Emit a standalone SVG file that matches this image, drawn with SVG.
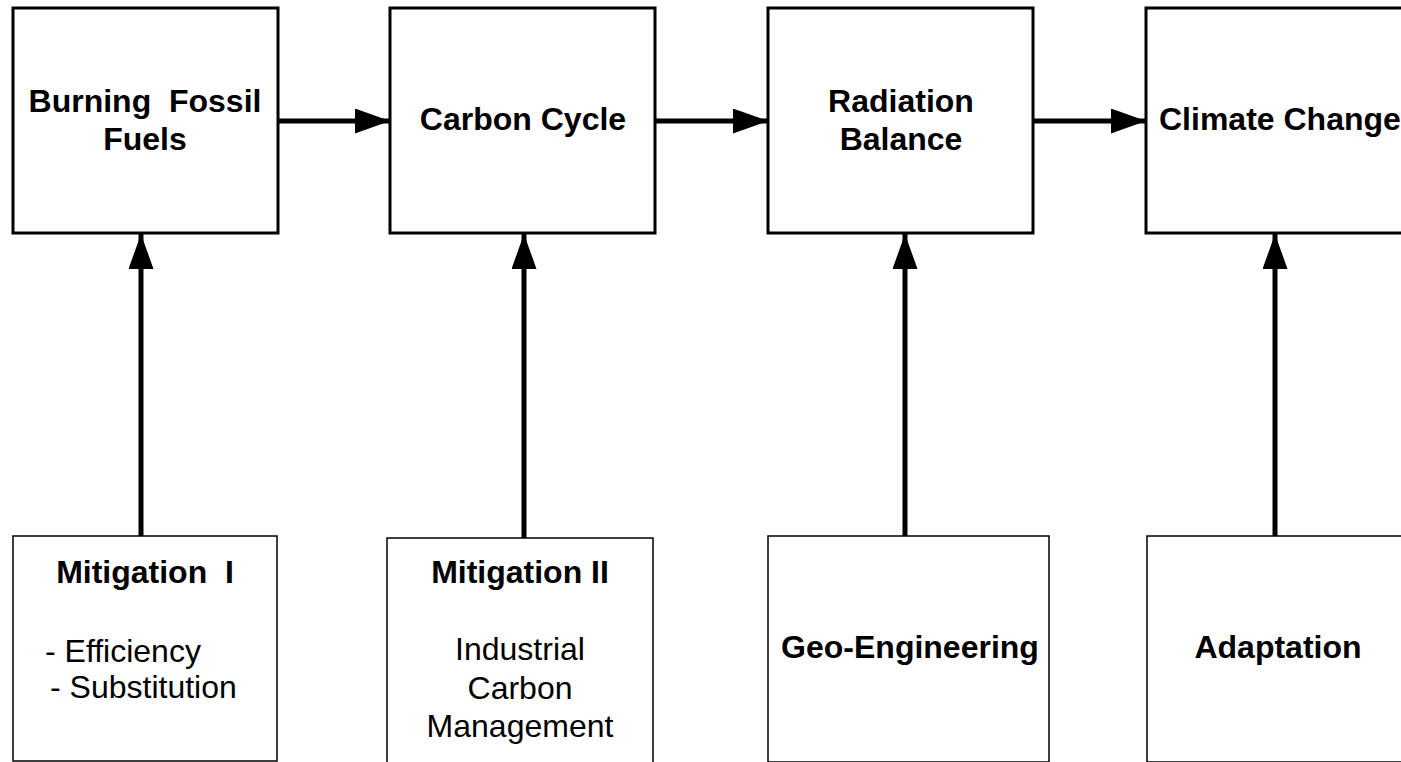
<svg xmlns="http://www.w3.org/2000/svg" width="1401" height="762" viewBox="0 0 1401 762">
<style>
.top{fill:#fff;stroke:#000;stroke-width:3}
.bot{fill:#fff;stroke:#000;stroke-width:1.5}
.b{font-family:"Liberation Sans",Arial,sans-serif;font-weight:bold;font-size:32px;fill:#000;text-anchor:middle;white-space:pre}
.r{font-family:"Liberation Sans",Arial,sans-serif;font-size:32px;fill:#000;text-anchor:middle;white-space:pre}
.c{stroke:#000;stroke-width:5;fill:none}
</style>
<defs>
<marker id="ah" markerUnits="userSpaceOnUse" markerWidth="36" markerHeight="26" refX="35" refY="12.5" orient="auto">
<path d="M0,0 L35,12.5 L0,25 Z" fill="#000"/>
</marker>
</defs>
<rect width="1401" height="762" fill="#fff"/>
<g id="n1"><rect class="top" x="13" y="8" width="265" height="225"/><text class="b" x="145" y="112" xml:space="preserve">Burning  Fossil</text><text class="b" x="145" y="150">Fuels</text></g>
<g id="n2"><rect class="top" x="390" y="8" width="265" height="225"/><text class="b" x="523" y="130">Carbon Cycle</text></g>
<g id="n3"><rect class="top" x="768" y="8" width="265" height="225"/><text class="b" x="901" y="112">Radiation</text><text class="b" x="901" y="150">Balance</text></g>
<g id="n4"><rect class="top" x="1146" y="8" width="265" height="225"/><text class="b" x="1159" y="130" style="text-anchor:start">Climate Change</text></g>
<g id="m1"><rect class="bot" x="13" y="536" width="264" height="225"/><text class="b" x="145" y="583" xml:space="preserve">Mitigation  I</text><text class="r" x="45" y="662" style="text-anchor:start">- Efficiency</text><text class="r" x="50" y="698" style="text-anchor:start">- Substitution</text></g>
<g id="m2"><rect class="bot" x="387" y="538" width="266" height="225"/><text class="b" x="520" y="583">Mitigation II</text><text class="r" x="520" y="660">Industrial</text><text class="r" x="520" y="699">Carbon</text><text class="r" x="520" y="737">Management</text></g>
<g id="m3"><rect class="bot" x="768" y="536" width="281" height="226"/><text class="b" x="910" y="658">Geo-Engineering</text></g>
<g id="m4"><rect class="bot" x="1147" y="536" width="260" height="226"/><text class="b" x="1278" y="658">Adaptation</text></g>
<g id="connectors">
<line class="c" x1="278" y1="121" x2="390" y2="121" marker-end="url(#ah)"/>
<line class="c" x1="655" y1="121" x2="768" y2="121" marker-end="url(#ah)"/>
<line class="c" x1="1033" y1="121" x2="1146" y2="121" marker-end="url(#ah)"/>
<line class="c" x1="141" y1="536" x2="141" y2="234" marker-end="url(#ah)"/>
<line class="c" x1="524" y1="538" x2="524" y2="234" marker-end="url(#ah)"/>
<line class="c" x1="905" y1="536" x2="905" y2="234" marker-end="url(#ah)"/>
<line class="c" x1="1275" y1="536" x2="1275" y2="234" marker-end="url(#ah)"/>
</g>
</svg>
